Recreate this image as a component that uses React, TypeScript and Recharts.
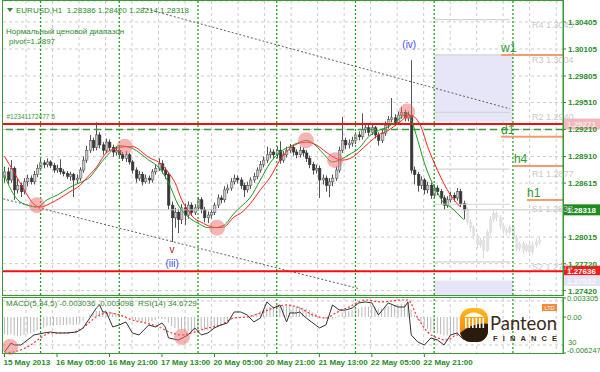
import React from 'react'
import {
  ComposedChart,
  Bar,
  Line,
  XAxis,
  YAxis,
  CartesianGrid,
  ReferenceLine,
  ReferenceArea,
  ReferenceDot,
} from 'recharts'

const GREEN = '#2a8c2a'
const FONT = '"Liberation Sans", Arial, sans-serif'

// H1 bars, index 0 = 15 May 2013 13:00
const firstOpen = 1.2868
const closes = [
  1.2874, 1.2865, 1.2878, 1.2854, 1.2859, 1.2852, 1.2863, 1.2867, 1.2863, 1.2871,
  1.2878, 1.2884, 1.2882, 1.2885, 1.2881, 1.2876, 1.2878, 1.2874, 1.2872, 1.2869,
  1.2871, 1.2865, 1.2867, 1.2876, 1.2887, 1.2898, 1.2909, 1.2901, 1.2915, 1.2904,
  1.2898, 1.2907, 1.2901, 1.2896, 1.2898, 1.2893, 1.2889, 1.2893, 1.2885, 1.2876,
  1.2867, 1.2871, 1.2863, 1.2867, 1.2865, 1.2874, 1.2878, 1.2883, 1.2876, 1.2871,
  1.2837, 1.2823, 1.2829, 1.2821, 1.2834, 1.2826, 1.2837, 1.2829, 1.2834, 1.2843,
  1.2832, 1.2823, 1.2826, 1.2829, 1.2837, 1.2845, 1.2843, 1.2854, 1.2856, 1.2863,
  1.2867, 1.2865, 1.2859, 1.2854, 1.2859, 1.2865, 1.2869, 1.2876, 1.2882, 1.2887,
  1.2893, 1.2896, 1.2893, 1.2898, 1.2887, 1.2893, 1.2898, 1.2901, 1.2896, 1.2893,
  1.2898, 1.2895, 1.2889, 1.2882, 1.2876, 1.2878, 1.2865, 1.2867, 1.2859, 1.2863,
  1.2867, 1.2876, 1.2898, 1.2909, 1.2904, 1.2906, 1.2909, 1.2915, 1.2913, 1.2921,
  1.2923, 1.2918, 1.2923, 1.2915, 1.2909, 1.2917, 1.2926, 1.2932, 1.2934, 1.2929,
  1.2937, 1.294, 1.2934, 1.2937, 1.2876, 1.2871, 1.2859, 1.2865, 1.2854, 1.2859,
  1.2848, 1.2856, 1.2852, 1.2845, 1.2837, 1.2843, 1.2848, 1.2845, 1.2852, 1.28386,
  1.28318,
]
const highs = [
  1.288, 1.2879, 1.2887, 1.288, 1.2866, 1.2862, 1.2867, 1.2871, 1.287, 1.2875,
  1.2882, 1.2889, 1.2887, 1.2889, 1.2887, 1.2884, 1.2882, 1.2888, 1.2877, 1.2875,
  1.2874, 1.2873, 1.2871, 1.2879, 1.2891, 1.2903, 1.2915, 1.2912, 1.2929, 1.2918,
  1.2907, 1.2911, 1.291, 1.2904, 1.2902, 1.2901, 1.2896, 1.2897, 1.2895, 1.2887,
  1.2879, 1.2875, 1.2874, 1.2871, 1.287, 1.2877, 1.2882, 1.2889, 1.2887, 1.2879,
  1.2874, 1.2841, 1.2834, 1.2833, 1.2838, 1.2839, 1.2841, 1.284, 1.2838, 1.2846,
  1.2846, 1.2835, 1.283, 1.2833, 1.284, 1.2849, 1.2848, 1.2858, 1.286, 1.2867,
  1.2871, 1.287, 1.2868, 1.2862, 1.2863, 1.2868, 1.2873, 1.2879, 1.2886, 1.2891,
  1.2902, 1.29, 1.2899, 1.2902, 1.2908, 1.2897, 1.2902, 1.2905, 1.2904, 1.2899,
  1.2902, 1.2901, 1.2898, 1.2892, 1.2885, 1.2882, 1.2881, 1.2871, 1.287, 1.2867,
  1.2871, 1.288, 1.2902, 1.2935, 1.2912, 1.291, 1.2913, 1.2918, 1.2919, 1.2939,
  1.2927, 1.2926, 1.2927, 1.2925, 1.2918, 1.2921, 1.293, 1.2936, 1.2956, 1.2938,
  1.2941, 1.2946, 1.2943, 1.2941, 1.2998, 1.288, 1.2874, 1.2869, 1.2867, 1.2863,
  1.2862, 1.286, 1.2859, 1.2855, 1.2848, 1.2847, 1.2852, 1.2851, 1.2856, 1.2855,
  1.2842,
]
const lows = [
  1.2862, 1.286, 1.2862, 1.2843, 1.285, 1.2846, 1.2849, 1.2858, 1.286, 1.286,
  1.2868, 1.2875, 1.2878, 1.2879, 1.2878, 1.2873, 1.2873, 1.2871, 1.2869, 1.2866,
  1.2864, 1.2846, 1.2861, 1.2864, 1.2873, 1.2884, 1.2895, 1.2897, 1.2898, 1.29,
  1.2893, 1.2895, 1.2897, 1.2891, 1.2892, 1.2889, 1.2886, 1.2885, 1.2882, 1.2872,
  1.2862, 1.2864, 1.2859, 1.2861, 1.2861, 1.2862, 1.2871, 1.2875, 1.2872, 1.2866,
  1.2832, 1.2796, 1.2812, 1.2806, 1.2816, 1.2815, 1.2822, 1.2825, 1.2826, 1.2831,
  1.2828, 1.2818, 1.2817, 1.2822, 1.2826, 1.2834, 1.2839, 1.284, 1.285, 1.2853,
  1.286, 1.2861, 1.2855, 1.2846, 1.2851, 1.2855, 1.2862, 1.2866, 1.2873, 1.2879,
  1.2884, 1.2889, 1.2888, 1.2889, 1.2883, 1.2884, 1.289, 1.2895, 1.2892, 1.2889,
  1.289, 1.2891, 1.2885, 1.2878, 1.2871, 1.2872, 1.2845, 1.286, 1.2852, 1.2846,
  1.2858, 1.2864, 1.2873, 1.2895, 1.2899, 1.29, 1.2902, 1.2905, 1.2909, 1.291,
  1.2917, 1.2914, 1.2915, 1.2911, 1.2903, 1.2906, 1.2914, 1.2922, 1.2929, 1.2925,
  1.2926, 1.2933, 1.293, 1.293, 1.2872, 1.286, 1.2852, 1.2855, 1.2849, 1.285,
  1.2844, 1.2845, 1.2848, 1.2838, 1.2832, 1.2834, 1.284, 1.2841, 1.2842, 1.2835,
  1.28214,
]

// faded projection bars after the last real one
const ghostCloses = [
  1.2818, 1.2812, 1.2803, 1.2793, 1.2798, 1.2787, 1.2807, 1.2821, 1.2828, 1.2823, 1.2814, 1.2809,
  1.2807, 1.2812, 1.2801, 1.2789, 1.2794, 1.2787, 1.2792, 1.2785, 1.2793, 1.2796, 1.2798,
]
const ghostHighs = [
  1.2835, 1.2821, 1.2815, 1.2806, 1.2801, 1.2802, 1.281, 1.2825, 1.2831, 1.283, 1.2826, 1.2817,
  1.2812, 1.2815, 1.2814, 1.2804, 1.2797, 1.2797, 1.2795, 1.2795, 1.2797, 1.28, 1.2803,
]
const ghostLows = [
  1.2815, 1.2808, 1.2799, 1.2789, 1.279, 1.2778, 1.2785, 1.2803, 1.2818, 1.2819, 1.281, 1.2805,
  1.2803, 1.2804, 1.2798, 1.2785, 1.2786, 1.2783, 1.2785, 1.2782, 1.2782, 1.279, 1.2793,
]

// moving averages, [bar, price]
const redMa: [number, number][] = [
  [0, 1.2891], [3, 1.2873], [6, 1.2854], [9, 1.2838], [11, 1.2835], [14, 1.2839], [17, 1.2845],
  [20, 1.2852], [23, 1.2859], [25, 1.2867], [28, 1.2879], [31, 1.2895], [34, 1.29], [37, 1.2902],
  [39, 1.2902], [44, 1.289], [48, 1.2882], [50, 1.2873], [52, 1.2862], [54, 1.2843], [56, 1.2831],
  [58, 1.2822], [60, 1.2818], [63, 1.2813], [65, 1.2812], [67, 1.2813], [70, 1.2824], [72, 1.2828],
  [75, 1.2839], [78, 1.2854], [81, 1.2868], [84, 1.2887], [87, 1.29], [90, 1.2906], [92, 1.2907],
  [95, 1.2904], [98, 1.2896], [101, 1.2889], [103, 1.2887], [106, 1.289], [108, 1.2896],
  [111, 1.2906], [114, 1.2915], [117, 1.292], [120, 1.2928], [124, 1.2937], [125, 1.2935],
  [127, 1.2924], [129, 1.2902], [131, 1.2884], [133, 1.2868], [135, 1.2854], [137, 1.2843],
  [139, 1.2835],
]
const greenMa: [number, number][] = [
  [0, 1.287], [2, 1.2854], [4, 1.2843], [7, 1.2837], [10, 1.2835], [13, 1.2843], [16, 1.2848],
  [20, 1.2857], [23, 1.2862], [26, 1.2868], [29, 1.2882], [32, 1.2895], [35, 1.2903], [39, 1.29],
  [44, 1.2887], [47, 1.2879], [50, 1.2862], [53, 1.2837], [56, 1.2824], [59, 1.2817], [62, 1.2812],
  [64, 1.2812], [67, 1.2815], [70, 1.2828], [72, 1.2835], [75, 1.2846], [78, 1.2865], [81, 1.2884],
  [84, 1.2896], [87, 1.2902], [90, 1.2907], [92, 1.2909], [94, 1.2906], [97, 1.2895], [100, 1.2885],
  [102, 1.2887], [105, 1.2893], [108, 1.29], [111, 1.2913], [114, 1.292], [117, 1.2924],
  [120, 1.2932], [123, 1.2939], [124, 1.2932], [126, 1.2909], [128, 1.2884], [130, 1.2865],
  [132, 1.2851], [134, 1.2839], [136, 1.2835], [138, 1.2828], [140, 1.2821],
]

// lower panel
const macd = [
  -0.003, -0.0031, -0.003, -0.0032, -0.0033, -0.0033, -0.0031, -0.0029, -0.0028, -0.0026,
  -0.0023, -0.002, -0.0018, -0.0016, -0.0015, -0.0015, -0.0014, -0.0014, -0.0014, -0.0014,
  -0.0013, -0.0014, -0.0013, -0.001, -0.0006, -0.0001, 0.0004, 0.0006, 0.0011, 0.0011,
  0.001, 0.0011, 0.001, 0.0008, 0.0007, 0.0005, 0.0003, 0.0002, 0.0, -0.0003,
  -0.0006, -0.0007, -0.0009, -0.0009, -0.0009, -0.0007, -0.0005, -0.0003, -0.0003, -0.0004,
  -0.001, -0.0016, -0.0019, -0.0023, -0.0023, -0.0025, -0.0024, -0.0025, -0.0024, -0.0022,
  -0.0022, -0.0023, -0.0023, -0.0022, -0.002, -0.0017, -0.0015, -0.0011, -0.0008, -0.0005,
  -0.0002, 0.0, 0.0, -0.0001, 0.0, 0.0002, 0.0004, 0.0007, 0.001, 0.0013,
  0.0016, 0.0018, 0.0019, 0.0021, 0.0019, 0.0019, 0.002, 0.002, 0.0019, 0.0018,
  0.0018, 0.0017, 0.0015, 0.0012, 0.0008, 0.0006, 0.0002, 0.0, -0.0003, -0.0004,
  -0.0004, -0.0002, 0.0003, 0.0008, 0.001, 0.0011, 0.0012, 0.0014, 0.0015, 0.0017,
  0.0018, 0.0018, 0.0019, 0.0017, 0.0015, 0.0015, 0.0017, 0.0019, 0.0021, 0.0021,
  0.0022, 0.0023, 0.0023, 0.0023, 0.0013, 0.0004, -0.0005, -0.0011, -0.0017, -0.0021,
  -0.0025, -0.0026, -0.0028, -0.003, -0.0032, -0.0032, -0.0031, -0.003, -0.0029, -0.003,
  -0.003,
]
const rsi: [number, number][] = [
  [0, 23.6], [2, 31.8], [3, 30], [5, 30], [7, 34.5], [9, 39.1], [12, 40.9], [14, 41.8], [16, 40.9],
  [19, 40.9], [22, 41.8], [24, 45.5], [26, 54.5], [28, 63.6], [29, 66.4], [30, 60], [31, 60],
  [33, 46.4], [35, 48.2], [37, 50.9], [39, 40.9], [41, 39.1], [44, 48.2], [46, 46.4], [48, 50],
  [49, 46.4], [50, 36.4], [53, 34.5], [56, 39.1], [58, 45.5], [60, 39.1], [62, 40.9], [64, 45.5],
  [66, 48.2], [68, 50], [70, 60], [72, 60], [74, 57.3], [76, 50.9], [78, 54.5], [80, 69.1],
  [82, 63.6], [84, 66.4], [86, 50.9], [87, 59.1], [89, 59.1], [90, 60], [92, 54.5], [96, 45.5],
  [98, 48.2], [100, 66.4], [102, 61.8], [104, 61.8], [106, 63.6], [108, 68.2], [110, 69.1],
  [112, 68.2], [114, 57.3], [117, 68.2], [120, 64.5], [122, 64.5], [123, 69.1], [124, 39.1],
  [126, 32.7], [128, 30], [130, 36.4], [132, 34.5], [134, 30], [136, 39.1], [138, 40.9], [140, 34.7],
]
const rsiSignal: [number, number][] = [
  [0, 22.7], [5, 25.5], [8, 30], [11, 36.4], [14, 40.9], [19, 40.9], [23, 43.6], [26, 50.9],
  [29, 57.3], [32, 59.1], [35, 57.3], [39, 52.7], [43, 50], [47, 46.4], [51, 40.9], [54, 39.1],
  [57, 40.9], [62, 45.5], [66, 48.2], [70, 54.5], [74, 55.5], [78, 59.1], [82, 63.6], [86, 66.4],
  [90, 63.6], [94, 57.3], [98, 54.5], [101, 59.1], [105, 64.5], [110, 70.9], [115, 69.1],
  [121, 70.9], [123, 70.9], [126, 54.5], [129, 41.8], [132, 36.4], [135, 34.5], [138, 39.1],
  [139, 37.3],
]

const priceTicks = [1.30405, 1.30105, 1.29805, 1.2951, 1.2921, 1.2891, 1.28615, 1.28015, 1.2772, 1.2742]
const timeTicks = [0, 16, 32, 48, 64, 80, 96, 112, 128]
const timeLabels = [
  '15 May 2013', '16 May 05:00', '16 May 21:00', '17 May 13:00', '20 May 05:00',
  '20 May 21:00', '21 May 13:00', '22 May 05:00', '22 May 21:00',
]
const daySeparators = [11, 35, 59, 83, 107, 131, 155]

const lastPrice = 1.28318
const redLevels = [1.29271, 1.27636]
const greenDashLevel = 1.2921
const pivots = [
  { name: 'R4', value: 1.3043 },
  { name: 'R3', value: 1.3004 },
  { name: 'R2', value: 1.294 },
  { name: 'R1', value: 1.2877 },
  { name: 'S1', value: 1.2838 },
  { name: 'S2', value: 1.2774 },
]
const pivotSpan = [131, 154]
const frameLevels = [
  { name: 'w1', value: 1.30038, from: 151.4 },
  { name: 'd1', value: 1.29131, from: 151.4 },
  { name: 'h4', value: 1.28805, from: 155.3 },
  { name: 'h1', value: 1.28427, from: 159.3 },
]
const zones = [
  { x1: 131, x2: 155, y1: 1.293, y2: 1.30038 },
  { x1: 131, x2: 155, y1: 1.2737, y2: 1.27532 },
]
const upperTrend = [{ x: 42.2, y: 1.3056 }, { x: 154.1, y: 1.2944 }]
const lowerTrend = [{ x: -0.4, y: 1.2844 }, { x: 108.4, y: 1.2744 }]
const crossMarks: [number, number][] = [
  [9.9, 1.2837], [36.7, 1.2902], [64.8, 1.2812], [91.9, 1.2909], [100.8, 1.2887], [122.7, 1.2941],
]
const panelMarks: [number, number][] = [[1.7, 28.2], [54.1, 37.3]]
const waveLabels = [
  { text: '(iv)', x: 123.4, y: 1.3015, color: '#4a4aff' },
  { text: 'v', x: 51.1, y: 1.2787, color: '#b02020' },
  { text: '(iii)', x: 51.1, y: 1.2772, color: '#4a4aff' },
]

const X_DOMAIN = [-0.457, 170.27]
const vGrid = Array.from({ length: 21 }, (_, k) => 26 + 26.51 * k).filter((x) => x < 562)

const rows: any[] = closes.map((c, i) => ({
  i,
  open: i === 0 ? firstOpen : closes[i - 1],
  close: c,
  high: highs[i],
  low: lows[i],
  range: [lows[i], highs[i]],
}))
ghostCloses.forEach((c, k) => {
  rows.push({
    i: closes.length + k,
    open: k === 0 ? closes[closes.length - 1] : ghostCloses[k - 1],
    close: c,
    high: ghostHighs[k],
    low: ghostLows[k],
    range: [ghostLows[k], ghostHighs[k]],
    ghost: true,
  })
})
redMa.forEach(([i, v]) => (rows[i].red = v))
greenMa.forEach(([i, v]) => (rows[i].green = v))

const subRows: any[] = macd.map((m, i) => ({ i, macd: m }))
rsi.forEach(([i, v]) => (subRows[i].rsi = v))
rsiSignal.forEach(([i, v]) => (subRows[i].sig = v))

const Candle = (props: any) => {
  const { x, y, width, height, payload } = props
  if (!payload || payload.high == null) return <g />
  const { open, close, high, low, ghost } = payload
  const top = Math.min(y, y + height)
  const h = Math.abs(height)
  const k = h / Math.max(high - low, 1e-9)
  const py = (v: number) => top + (high - v) * k
  const cx = Math.round(x + width / 2)
  const bTop = py(Math.max(open, close))
  const bBot = py(Math.min(open, close))
  const bull = close >= open
  const wick = ghost ? '#dadada' : '#555'
  const fill = ghost ? '#e2e2e2' : bull ? '#c8c8c8' : '#353535'
  return (
    <g>
      <line x1={cx + 0.5} x2={cx + 0.5} y1={top} y2={top + h} stroke={wick} strokeWidth={1} />
      <rect
        x={cx - 0.5}
        y={bTop}
        width={2.4}
        height={Math.max(bBot - bTop, 1)}
        fill={fill}
        stroke={ghost ? '#e2e2e2' : bull ? '#606060' : '#353535'}
        strokeWidth={0.6}
      />
    </g>
  )
}

const textShape = (text: string, color: string, size: number, dx = 0, dy = 0, anchor = 'start') =>
  (p: any) => (
    <text
      x={p.cx + dx}
      y={p.cy + dy}
      fill={color}
      fontSize={size}
      fontFamily={FONT}
      textAnchor={anchor}
    >
      {text}
    </text>
  )

const priceTag = (text: string, bg: string, fg: string) => (p: any) => {
  const vb = p.viewBox || {}
  const x = (vb.x ?? 0) + (vb.width ?? 0)
  const y = vb.y ?? 0
  return (
    <g>
      <rect x={x + 1} y={y - 5.5} width={36} height={11} fill={bg} />
      <text x={x + 4} y={y + 3} fill={fg} fontSize={8} fontWeight="bold" fontFamily={FONT}>
        {text}
      </text>
    </g>
  )
}

const sideLabel = (text: string) => (p: any) => {
  const vb = p.viewBox || {}
  return (
    <text
      x={(vb.x ?? 0) + (vb.width ?? 0) + 5}
      y={(vb.y ?? 0)}
      fill={GREEN}
      fontSize={7.5}
      fontFamily={FONT}
    >
      {text}
    </text>
  )
}

const TimeTick = (props: any) => {
  const { x, y, payload } = props
  const idx = timeTicks.indexOf(payload.value)
  return (
    <text x={x - 1} y={y} dy="0.71em" fill={GREEN} fontSize={8} fontWeight="bold" fontFamily={FONT}>
      {timeLabels[idx]}
    </text>
  )
}

const MacdTick = (props: any) => {
  const { x, y, payload } = props
  const v = payload.value
  const label = v === 0 ? '0.00' : String(v)
  return (
    <text x={x - 1} y={y + (v < 0 ? 0 : 3)} fill={GREEN} fontSize={7.5} fontFamily={FONT}>
      {label}
    </text>
  )
}

function Logo() {
  const cols = [465, 468.5, 472, 475.5, 479, 482.5]
  return (
    <g>
      <defs>
        <clipPath id="logoClip">
          <rect x={460} y={308} width={28} height={34} rx={11} />
        </clipPath>
        <linearGradient id="logoGrad" x1="0" y1="0" x2="0" y2="1">
          <stop offset="0" stopColor="#ffb81c" />
          <stop offset="1" stopColor="#ee7a00" />
        </linearGradient>
      </defs>
      <g clipPath="url(#logoClip)">
        <rect x={460} y={308} width={28} height={34} fill="url(#logoGrad)" />
        <path d="M460,342 L460,333 C468,327 478,322 488,324 L488,342 Z" fill="#2b1a0e" />
      </g>
      <path d="M464,317 Q474,308 484,317 Z" fill="#fff" />
      {cols.map((c) => (
        <rect key={c} x={c} y={318} width={1.6} height={10} fill="#fff" />
      ))}
      <text x={490} y={330} fontSize={20} fill="#3c2a1c" fontFamily="Lato, 'Open Sans', sans-serif" textLength={67} lengthAdjust="spacingAndGlyphs">
        Panteon
      </text>
      <text x={493} y={341} fontSize={7.5} fill="#3c2a1c" fontWeight="bold" fontFamily={FONT} textLength={64} lengthAdjust="spacing">
        FINANCE
      </text>
      <rect x={542} y={304} width={15} height={7} fill="#f28c3a" />
      <text x={549.5} y={310} fontSize={5.5} fill="#fff" textAnchor="middle" fontFamily={FONT}>
        LTD
      </text>
    </g>
  )
}

export default function App() {
  return (
    <div
      style={{
        position: 'fixed',
        left: 0,
        top: 0,
        width: 600,
        height: 372,
        background: '#fff',
        overflow: 'hidden',
        fontFamily: FONT,
      }}
    >
      <div style={{ position: 'absolute', left: 0, top: 0 }}>
        <ComposedChart width={600} height={296} data={rows} margin={{ top: 1, right: 0, bottom: 1, left: 3 }}>
          <CartesianGrid stroke="#cccccc" strokeDasharray="3 3" verticalPoints={vGrid} />
          <XAxis type="number" dataKey="i" domain={X_DOMAIN} allowDataOverflow hide />
          <YAxis
            orientation="right"
            width={37}
            domain={[1.27372, 1.30638]}
            allowDataOverflow
            ticks={priceTicks}
            interval={0}
            tickFormatter={(v: number) => v.toFixed(5)}
            tick={{ fill: GREEN, fontSize: 8, fontWeight: 'bold', fontFamily: FONT }}
            tickSize={3}
            tickLine={{ stroke: GREEN }}
            axisLine={{ stroke: GREEN }}
          />
          {zones.map((z, k) => (
            <ReferenceArea key={k} x1={z.x1} x2={z.x2} y1={z.y1} y2={z.y2} fill="#e6e6f8" fillOpacity={1} stroke="none" ifOverflow="hidden" />
          ))}
          {daySeparators.map((d) => (
            <ReferenceLine key={d} x={d} stroke="#2aa02a" strokeWidth={1.3} strokeDasharray="2 2" />
          ))}
          {pivots.map((p) => (
            <ReferenceLine
              key={p.name}
              segment={[{ x: pivotSpan[0], y: p.value }, { x: pivotSpan[1], y: p.value }]}
              stroke="#d4d4d4"
              strokeWidth={1.2}
            />
          ))}
          {pivots.map((p) => (
            <ReferenceDot
              key={'t' + p.name}
              x={160.8}
              y={p.value}
              ifOverflow="hidden"
              shape={textShape(`${p.name} ${p.value.toFixed(4)}`, '#c8c8c8', 9, 0, 8)}
            />
          ))}
          <ReferenceLine y={lastPrice} stroke="#c4c4c4" label={priceTag('1.28318', '#1e8c1e', '#fff')} />
          <ReferenceLine
            segment={[upperTrend[0], upperTrend[1]]}
            stroke="#606060"
            strokeDasharray="2 2"
            ifOverflow="hidden"
          />
          <ReferenceLine
            segment={[lowerTrend[0], lowerTrend[1]]}
            stroke="#606060"
            strokeDasharray="2 2"
            ifOverflow="hidden"
          />
          <ReferenceLine y={greenDashLevel} stroke="#3a9a3a" strokeWidth={1.5} strokeDasharray="7 4" />
          <ReferenceLine y={redLevels[0]} stroke="#f01010" strokeWidth={2} label={priceTag('1.29271', '#f4b8bc', '#fbe9ea')} />
          <ReferenceLine y={redLevels[1]} stroke="#f01010" strokeWidth={2} label={priceTag('1.27636', '#ff1a1a', '#fff')} />
          <ReferenceLine y={1.27532} stroke="none" label={priceTag('1.27532', '#e4e4f6', '#f8f8ff')} />
          {frameLevels.map((f) => (
            <ReferenceLine
              key={f.name}
              segment={[{ x: f.from, y: f.value }, { x: X_DOMAIN[1], y: f.value }]}
              stroke="#f39c70"
              strokeWidth={2}
            />
          ))}
          {frameLevels.map((f) => (
            <ReferenceDot
              key={'l' + f.name}
              x={f.from}
              y={f.value}
              shape={textShape(f.name, '#2e9a2e', 12, 0, -3)}
            />
          ))}
          <ReferenceDot x={0} y={1.2933} shape={textShape('#12341172477 5', '#3a9a3a', 6.5, 2, 0)} />
          <Bar dataKey="range" barSize={3} shape={<Candle />} isAnimationActive={false} />
          <Line type="monotone" dataKey="green" stroke="#1f9a1f" strokeWidth={1} dot={false} connectNulls isAnimationActive={false} />
          <Line type="monotone" dataKey="red" stroke="#ff1f1f" strokeWidth={1} dot={false} connectNulls isAnimationActive={false} />
          {crossMarks.map(([x, y], k) => (
            <ReferenceDot key={'c' + k} x={x} y={y} r={8} fill="#f06a6a" fillOpacity={0.5} stroke="none" />
          ))}
          {waveLabels.map((w) => (
            <ReferenceDot key={w.text} x={w.x} y={w.y} shape={textShape(w.text, w.color, 10, 0, 3, 'middle')} />
          ))}
        </ComposedChart>
      </div>

      <div style={{ position: 'absolute', left: 0, top: 289 }}>
        <ComposedChart width={600} height={83} data={subRows} margin={{ top: 9, right: 0, bottom: 0, left: 3 }}>
          <CartesianGrid yAxisId="macd" stroke="#cccccc" strokeDasharray="3 3" horizontal={false} verticalPoints={vGrid} />
          <XAxis
            type="number"
            dataKey="i"
            domain={X_DOMAIN}
            allowDataOverflow
            ticks={timeTicks}
            interval={0}
            height={19}
            axisLine={false}
            tickSize={4}
            tickLine={{ stroke: GREEN }}
            tick={<TimeTick />}
          />
          <YAxis
            yAxisId="macd"
            orientation="right"
            width={37}
            domain={[-0.006247, 0.003305]}
            allowDataOverflow
            ticks={[0.003305, 0, -0.006247]}
            interval={0}
            tickSize={3}
            tickLine={{ stroke: GREEN }}
            axisLine={{ stroke: GREEN }}
            tick={<MacdTick />}
          />
          <YAxis yAxisId="rsi" hide domain={[22.7, 72.7]} allowDataOverflow />
          {daySeparators.map((d) => (
            <ReferenceLine key={d} yAxisId="macd" x={d} stroke="#2aa02a" strokeWidth={1.3} strokeDasharray="2 2" />
          ))}
          <ReferenceLine yAxisId="rsi" y={70} stroke="#c8c8c8" strokeDasharray="3 3" />
          <ReferenceLine yAxisId="rsi" y={30} stroke="#c8c8c8" strokeDasharray="3 3" label={sideLabel('30')} />
          <Bar yAxisId="macd" dataKey="macd" barSize={1} fill="#b8b8b8" isAnimationActive={false} />
          <Line yAxisId="rsi" type="monotone" dataKey="sig" stroke="#ff3030" strokeWidth={1.2} strokeDasharray="2 2" dot={false} connectNulls isAnimationActive={false} />
          <Line yAxisId="rsi" type="linear" dataKey="rsi" stroke="#333" strokeWidth={1} dot={false} connectNulls isAnimationActive={false} />
          {panelMarks.map(([x, y], k) => (
            <ReferenceDot key={k} yAxisId="rsi" x={x} y={y} r={8} fill="#f06a6a" fillOpacity={0.5} stroke="none" />
          ))}
        </ComposedChart>
      </div>

      <svg width={600} height={372} style={{ position: 'absolute', left: 0, top: 0, pointerEvents: 'none' }}>
        <rect x={2.5} y={0.5} width={561} height={295} fill="none" stroke="#3a9a3a" />
        <rect x={2.5} y={297.5} width={561} height={56} fill="none" stroke="#3a9a3a" />
        <path d="M7,8 L13,8 L10,12 Z" fill={GREEN} />
        <text x={16} y={13} fill={GREEN} fontSize={8} fontFamily={FONT} style={{ whiteSpace: 'pre' }}>
          EURUSD,H1  1.28386 1.28420 1.28214 1.28318
        </text>
        <text x={6} y={34} fill={GREEN} fontSize={8} fontFamily={FONT}>
          Нормальный ценовой диапазон
        </text>
        <text x={9} y={44} fill={GREEN} fontSize={8} fontFamily={FONT}>
          pivot=1.2897
        </text>
        <text x={6} y={306} fill={GREEN} fontSize={8} fontFamily={FONT} style={{ whiteSpace: 'pre' }}>
          MACD(5,34,5) -0.003036 -0.003098  RSI(14) 34.6729
        </text>
        <Logo />
      </svg>
    </div>
  )
}
